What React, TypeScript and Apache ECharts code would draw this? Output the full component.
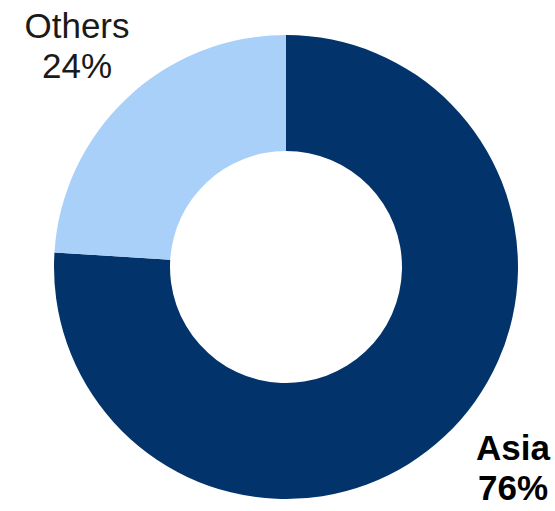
import React, { useEffect, useRef } from "react";
import * as echarts from "echarts";

const categories = ["Asia", "Others"];
const values = [76, 24];
const colors = ["#03336b", "#a9d0f8"];

export default function App() {
  const ref = useRef<HTMLDivElement>(null);
  useEffect(() => {
    if (!ref.current) return;
    const chart = echarts.init(ref.current, null, { renderer: "svg" });
    const font = "'Liberation Sans', Arial, sans-serif";
    const labelPos: Record<string, { x: number; y: number }> = {
      Asia: { x: 513, y: 467 },
      Others: { x: 77, y: 45 },
    };
    chart.setOption({
      animation: false,
      backgroundColor: "#ffffff",
      series: [
        {
          type: "pie",
          center: [286, 267],
          radius: [116, 232],
          startAngle: 90,
          clockwise: true,
          silent: true,
          emphasis: { disabled: true },
          labelLine: { show: false },
          label: {
            show: true,
            position: "inside",
            overflow: "none",
            formatter: "{b}\n{c}%",
            fontFamily: font,
            fontSize: 35,
            lineHeight: 40,
            align: "center",
          },
          labelLayout: (params: any) => {
            const p = labelPos[categories[params.dataIndex]];
            return { x: p.x, y: p.y, align: "center", verticalAlign: "middle" };
          },
          data: categories.map((name, i) => ({
            name,
            value: values[i],
            itemStyle: { color: colors[i] },
            label:
              name === "Asia"
                ? { color: "#000000", fontWeight: "bold" }
                : { color: "#1a1a1a", fontWeight: "normal" },
          })),
        },
      ],
    });
    return () => chart.dispose();
  }, []);
  return (
    <div
      ref={ref}
      style={{ position: "fixed", left: 0, top: 0, width: 555, height: 511 }}
    />
  );
}
